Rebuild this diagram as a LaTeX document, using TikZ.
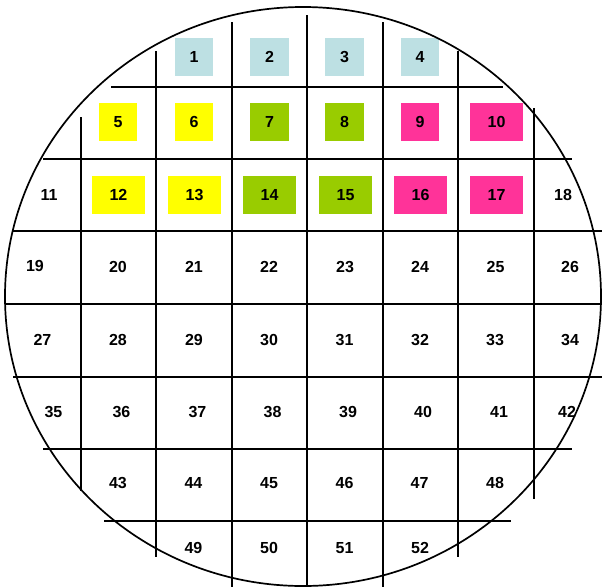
\documentclass[tikz,border=0pt]{standalone}
\usepackage{fontspec}
\setmainfont{Liberation Sans}
\definecolor{dieblue}{HTML}{BDE0E3}
\definecolor{dieyellow}{HTML}{FFFF00}
\definecolor{diegreen}{HTML}{99CC00}
\definecolor{diepink}{HTML}{FF3399}
\begin{document}
\begin{tikzpicture}[x=1pt,y=-1pt,
  cut/.style={line width=2.3pt},
  num/.style={font=\fontsize{16}{19}\selectfont\bfseries,inner sep=0pt}]
  \useasboundingbox (0,0) rectangle (602,587);
  % coloured dies
  \fill[dieblue] (175,38) rectangle (213,76);
  \fill[dieblue] (250,38) rectangle (289,76);
  \fill[dieblue] (325,38) rectangle (364,76);
  \fill[dieblue] (401,38) rectangle (439,76);
  \fill[dieyellow] (99,103) rectangle (137,141);
  \fill[dieyellow] (175,103) rectangle (213,141);
  \fill[diegreen] (250,103) rectangle (289,141);
  \fill[diegreen] (325,103) rectangle (364,141);
  \fill[diepink] (401,103) rectangle (439,141);
  \fill[diepink] (470,103) rectangle (523,141);
  \fill[dieyellow] (92,176) rectangle (145,214);
  \fill[dieyellow] (168,176) rectangle (221,214);
  \fill[diegreen] (243,176) rectangle (296,214);
  \fill[diegreen] (319,176) rectangle (372,214);
  \fill[diepink] (394,176) rectangle (447,214);
  \fill[diepink] (470,176) rectangle (523,214);
  % wafer outline
  \draw[line width=1.7pt] (303,296.5) ellipse [x radius=298,y radius=289.5];
  % saw lines
  \draw[cut] (81,117) -- (81,491);
  \draw[cut] (156,51) -- (156,557);
  \draw[cut] (232,22) -- (232,587);
  \draw[cut] (307,15) -- (307,587);
  \draw[cut] (383,22) -- (383,587);
  \draw[cut] (458,51) -- (458,557);
  \draw[cut] (534,108) -- (534,499);
  \draw[cut] (111,87) -- (503,87);
  \draw[cut] (43,159) -- (572,159);
  \draw[cut] (13,231) -- (602,231);
  \draw[cut] (5,304) -- (602,304);
  \draw[cut] (13,377) -- (602,377);
  \draw[cut] (43,449) -- (572,449);
  \draw[cut] (104,521) -- (511,521);
  % die numbers
  \foreach \n/\x/\y in {1/194/57,2/269.5/57,3/344.5/57,4/420/57,
      5/118/122,6/194/122,7/269.5/122,8/344.5/122,9/420/122,10/496.5/122,
      11/49/195,12/118.5/195,13/194.5/195,14/269.5/195,15/345.5/195,16/420.5/195,17/496.5/195,18/563/195,
      19/35/266,20/118/267,21/194/267,22/269/267,23/345/267,24/420/267,25/495.5/267,26/570/267,
      27/42.5/340,28/118/340,29/194/340,30/269/340,31/344.5/340,32/420/340,33/495/340,34/570/340,
      35/53.5/411.5,36/121.5/411.5,37/197.5/411.5,38/272.5/411.5,39/348/411.5,40/423/411.5,41/499/411.5,42/567/411.5,
      43/118/483,44/193.5/483,45/269/483,46/344.5/483,47/419.5/483,48/495/483,
      49/193.5/548,50/269/548,51/344.5/548,52/420/548}
    \node[num] (d\n) at (\x,\y) {\n};
\end{tikzpicture}
\end{document}
